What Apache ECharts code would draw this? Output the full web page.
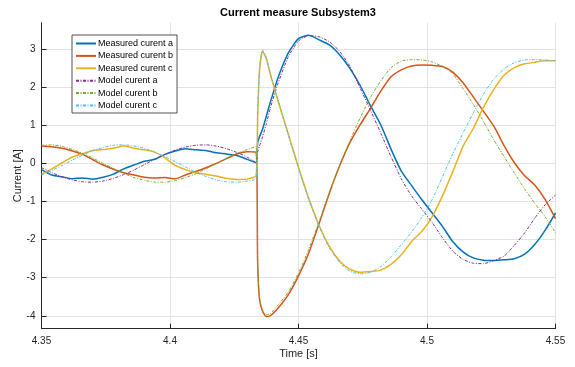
<!DOCTYPE html>
<html>
<head>
<meta charset="utf-8">
<script src="https://cdn.jsdelivr.net/npm/echarts@6/dist/echarts.min.js"></script>
<style>html,body{margin:0;padding:0;background:#fff}#c{width:575px;height:367px}</style>
</head>
<body>
<div id="c"></div>
<script>
// time axis (s)
const time = [4.350, 4.354, 4.358, 4.362, 4.366, 4.370, 4.374, 4.378, 4.382, 4.386, 4.390, 4.394, 4.398, 4.402, 4.406, 4.410, 4.414, 4.418, 4.422, 4.426, 4.430, 4.4335,
  4.4341, 4.4348, 4.4360, 4.4375, 4.439, 4.442,
  4.446, 4.450, 4.454, 4.458, 4.462, 4.466, 4.470, 4.474, 4.478, 4.482, 4.486, 4.490, 4.494, 4.498, 4.502, 4.506, 4.510, 4.514, 4.518, 4.522, 4.526, 4.530, 4.534, 4.538, 4.542, 4.546, 4.550];

const measuredA = [-0.16, -0.30, -0.35, -0.40, -0.38, -0.41, -0.36, -0.28, -0.14, -0.04, 0.06, 0.11, 0.24, 0.33, 0.39, 0.36, 0.34, 0.28, 0.25, 0.21, 0.11, 0.02,
  0.55, 0.70, 0.90, 1.25, 1.60, 2.25,
  2.90, 3.28, 3.37, 3.25, 3.12, 2.86, 2.50, 2.05, 1.52, 1.02, 0.38, -0.20, -0.58, -0.95, -1.30, -1.65, -2.05, -2.32, -2.48, -2.54, -2.55, -2.53, -2.50, -2.38, -2.12, -1.75, -1.30];

const measuredB = [0.46, 0.44, 0.40, 0.33, 0.24, 0.10, -0.04, -0.15, -0.24, -0.30, -0.36, -0.38, -0.37, -0.40, -0.30, -0.21, -0.11, 0.00, 0.13, 0.25, 0.31, 0.30,
  -2.60, -3.55, -3.88, -4.02, -4.00, -3.80,
  -3.45, -2.95, -2.35, -1.58, -0.78, -0.06, 0.55, 1.02, 1.45, 1.90, 2.28, 2.46, 2.56, 2.59, 2.58, 2.55, 2.40, 2.12, 1.75, 1.37, 0.98, 0.47, 0.02, -0.32, -0.57, -0.95, -1.45];

const measuredC = [-0.28, -0.14, 0.02, 0.17, 0.26, 0.34, 0.37, 0.40, 0.47, 0.40, 0.36, 0.30, 0.15, -0.05, -0.16, -0.24, -0.28, -0.33, -0.39, -0.42, -0.41, -0.32,
  1.20, 2.40, 2.95, 2.75, 2.35, 1.65,
  0.78, -0.10, -0.92, -1.62, -2.18, -2.56, -2.78, -2.86, -2.84, -2.80, -2.65, -2.40, -2.05, -1.78, -1.40, -0.85, -0.22, 0.45, 0.92, 1.48, 1.95, 2.32, 2.52, 2.62, 2.66, 2.70, 2.70];

const modelA = [-0.11, -0.24, -0.35, -0.43, -0.48, -0.49, -0.46, -0.39, -0.29, -0.17, -0.03, 0.11, 0.24, 0.35, 0.43, 0.48, 0.49, 0.46, 0.39, 0.29, 0.17, 0.03,
  0.30, 0.45, 0.70, 1.05, 1.45, 2.10,
  2.80, 3.22, 3.36, 3.33, 3.20, 2.95, 2.55, 1.98, 1.40, 0.80, 0.18, -0.40, -0.85, -1.20, -1.55, -1.95, -2.30, -2.52, -2.62, -2.63, -2.55, -2.43, -2.15, -1.82, -1.43, -1.08, -0.83];

const modelB = [0.48, 0.49, 0.45, 0.37, 0.27, 0.14, 0.00, -0.13, -0.26, -0.37, -0.44, -0.49, -0.49, -0.45, -0.37, -0.27, -0.14, 0.00, 0.14, 0.26, 0.37, 0.45,
  -2.60, -3.50, -3.85, -3.97, -3.95, -3.72,
  -3.38, -2.88, -2.25, -1.52, -0.76, -0.05, 0.60, 1.20, 1.74, 2.17, 2.52, 2.69, 2.73, 2.72, 2.67, 2.55, 2.36, 1.97, 1.56, 1.10, 0.62, 0.18, -0.25, -0.67, -1.05, -1.40, -1.82];

const modelC = [-0.30, -0.18, -0.05, 0.09, 0.22, 0.34, 0.42, 0.48, 0.49, 0.46, 0.40, 0.30, 0.18, 0.05, -0.09, -0.23, -0.34, -0.43, -0.48, -0.49, -0.46, -0.40,
  1.30, 2.45, 2.98, 2.78, 2.38, 1.70,
  0.75, -0.12, -0.95, -1.65, -2.22, -2.60, -2.83, -2.90, -2.86, -2.71, -2.45, -2.13, -1.80, -1.42, -0.95, -0.35, 0.25, 0.80, 1.33, 1.83, 2.22, 2.49, 2.65, 2.72, 2.73, 2.72, 2.70];

const seriesNames = ['Measured curent a', 'Measured curent b', 'Measured curent c', 'Model curent a', 'Model curent b', 'Model curent c'];
const seriesValues = [measuredA, measuredB, measuredC, modelA, modelB, modelC];
const colors = ['#0072BD', '#D95319', '#EDB120', '#7E2F8E', '#77AC30', '#4DBEEE'];
const yTicks = [-4, -3, -2, -1, 0, 1, 2, 3];
const xRange = [4.35, 4.55];
const yRange = [-4.34, 3.70];

const font = '"Liberation Sans", Arial, Helvetica, sans-serif';
const axisCol = '#262626';
const gridCol = '#e3e3e3';

const series = seriesNames.map((name, k) => {
  const model = k >= 3;
  return {
    name: name,
    type: 'line',
    data: time.map((t, i) => [t, seriesValues[k][i]]),
    symbol: 'none',
    smooth: 0.2,
    animation: false,
    lineStyle: {
      color: colors[k],
      width: model ? 1 : 1.5,
      type: model ? [3, 1.5, 1, 1.5] : 'solid'
    },
    itemStyle: { color: colors[k] },
    z: model ? 3 : 2
  };
});

const chart = echarts.init(document.getElementById('c'), null, { renderer: 'canvas' });
chart.setOption({
  animation: false,
  backgroundColor: '#ffffff',
  color: colors,
  title: {
    text: 'Current measure Subsystem3',
    left: 220, top: 7, padding: 0,
    textStyle: { fontFamily: font, fontSize: 11, fontWeight: 'bold', color: '#000' }
  },
  grid: { left: 41.5, right: 19.5, top: 22.7, bottom: 38.3, containLabel: false, outerBoundsMode: 'none' },
  legend: {
    orient: 'vertical',
    left: 72, top: 35,
    data: seriesNames,
    itemWidth: 20, itemHeight: 9, itemGap: 3.4,
    padding: [4, 4, 3, 3],
    backgroundColor: '#ffffff',
    borderColor: axisCol, borderWidth: 0.8,
    itemStyle: { opacity: 0 },
    textStyle: { fontFamily: font, fontSize: 9, color: '#000', padding: [0, 0, 0, -3] }
  },
  xAxis: {
    type: 'value',
    min: xRange[0], max: xRange[1], interval: 0.05,
    name: 'Time [s]', nameLocation: 'middle', nameGap: 20, nameMoveOverlap: false,
    nameTextStyle: { fontFamily: font, fontSize: 11, color: axisCol },
    axisLine: { show: true, onZero: false, lineStyle: { color: axisCol, width: 1 } },
    axisTick: { show: true, inside: true, length: 5, lineStyle: { color: axisCol } },
    axisLabel: { fontFamily: font, fontSize: 10, color: axisCol, margin: 8,
      formatter: v => String(+v.toFixed(2)) },
    splitLine: { show: true, lineStyle: { color: gridCol, width: 1 } }
  },
  yAxis: {
    type: 'value',
    min: yRange[0], max: yRange[1],
    name: 'Current [A]', nameLocation: 'middle', nameGap: 18, nameMoveOverlap: false,
    nameTextStyle: { fontFamily: font, fontSize: 11, color: axisCol },
    axisLine: { show: true, onZero: false, lineStyle: { color: axisCol, width: 1 } },
    axisTick: { show: true, inside: true, length: 5, customValues: yTicks, lineStyle: { color: axisCol } },
    axisLabel: { fontFamily: font, fontSize: 10, color: axisCol, margin: 6, customValues: yTicks },
    splitLine: { show: true, lineStyle: { color: gridCol, width: 1 } }
  },
  series: series
});
</script>
</body>
</html>
